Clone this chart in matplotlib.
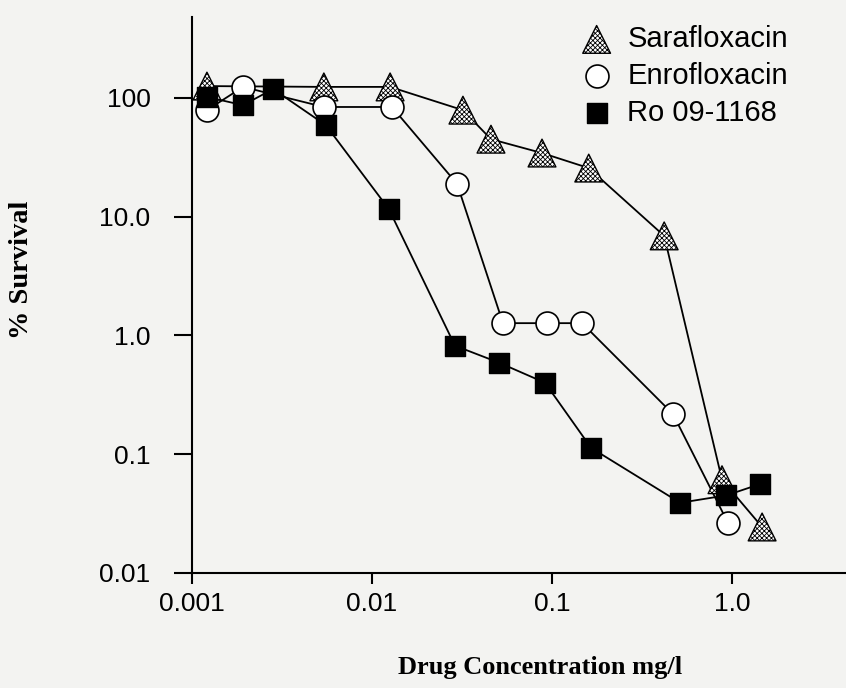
import matplotlib.pyplot as plt
from matplotlib.ticker import FixedLocator, FixedFormatter, NullLocator

# Drug concentration (mg/l) and % survival
sara_x = [0.00121, 0.0054, 0.0126, 0.032, 0.0458, 0.088, 0.16, 0.42, 0.88, 1.47]
sara_y = [126, 124, 124, 79, 45, 34.4, 25.7, 6.9, 0.061, 0.0244]

enro_x = [0.00121, 0.00192, 0.0054, 0.0129, 0.0297, 0.0534, 0.094, 0.147, 0.47, 0.95]
enro_y = [79, 124, 84, 84, 18.9, 1.27, 1.27, 1.27, 0.218, 0.0264]

ro_x = [0.00121, 0.00192, 0.00282, 0.00554, 0.0124, 0.0289, 0.0508, 0.0914, 0.165, 0.515, 0.93, 1.43]
ro_y = [102, 87, 119, 59, 11.6, 0.82, 0.59, 0.40, 0.113, 0.039, 0.045, 0.056]

xticks = [0.001, 0.01, 0.1, 1.0]
xtick_labels = ['0.001', '0.01', '0.1', '1.0']
yticks = [0.01, 0.1, 1.0, 10.0, 100]
ytick_labels = ['0.01', '0.1', '1.0', '10.0', '100']

bg = '#f3f3f1'
plt.rcParams['hatch.linewidth'] = 0.6

fig = plt.figure(figsize=(8.46, 6.88), dpi=100, facecolor=bg)
ax = fig.add_axes([0.227, 0.1672, 0.773, 0.8081])
ax.set_facecolor(bg)
ax.set_xscale('log')
ax.set_yscale('log')
ax.set_xlim(0.001, 4.3)
ax.set_ylim(0.01, 481)

# lines first, markers on top
ax.plot(sara_x, sara_y, color='black', lw=1.3, zorder=2)
ax.plot(enro_x, enro_y, color='black', lw=1.3, zorder=2)
ax.plot(ro_x, ro_y, color='black', lw=1.3, zorder=2)

h1 = ax.scatter(sara_x, sara_y, marker='^', s=20**2, facecolor='white',
                edgecolor='black', hatch='xxxxxxx', linewidth=1.0, zorder=3,
                label='Sarafloxacin')
h2 = ax.scatter(enro_x, enro_y, marker='o', s=16.5**2, facecolor='white',
                edgecolor='black', linewidth=1.2, zorder=4, label='Enrofloxacin')
h3 = ax.scatter(ro_x, ro_y, marker='s', s=14.5**2, facecolor='black',
                edgecolor='black', linewidth=1.0, zorder=5, label='Ro 09-1168')

for side in ['top', 'right']:
    ax.spines[side].set_visible(False)
for side in ['left', 'bottom']:
    ax.spines[side].set_linewidth(1.5)

ax.xaxis.set_major_locator(FixedLocator(xticks))
ax.xaxis.set_major_formatter(FixedFormatter(xtick_labels))
ax.yaxis.set_major_locator(FixedLocator(yticks))
ax.yaxis.set_major_formatter(FixedFormatter(ytick_labels))
ax.xaxis.set_minor_locator(NullLocator())
ax.yaxis.set_minor_locator(NullLocator())

ax.tick_params(axis='x', direction='out', length=8, width=1.5, pad=6,
               labelsize=19)
ax.tick_params(axis='y', direction='out', length=13, width=1.5, pad=17,
               labelsize=19)
for lab in ax.get_xticklabels() + ax.get_yticklabels():
    lab.set_fontfamily('Liberation Sans')

fig.text(0.638, 0.0305, 'Drug Concentration mg/l', family='Liberation Serif',
         weight='bold', size=19, ha='center', va='center')
fig.text(0.026, 0.6076, '% Survival', family='Liberation Serif',
         weight='bold', size=20.5, ha='center', va='center', rotation=90)

leg = ax.legend(handles=[h1, h2, h3], loc='upper left',
                bbox_to_anchor=(0.688, 0.9636), bbox_transform=fig.transFigure,
                frameon=False, borderpad=0, borderaxespad=0,
                handlelength=1.0, handletextpad=0.55, labelspacing=0.31,
                prop={'family': 'Liberation Sans', 'size': 21})

fig.savefig('out.png', dpi=100, facecolor=bg)
